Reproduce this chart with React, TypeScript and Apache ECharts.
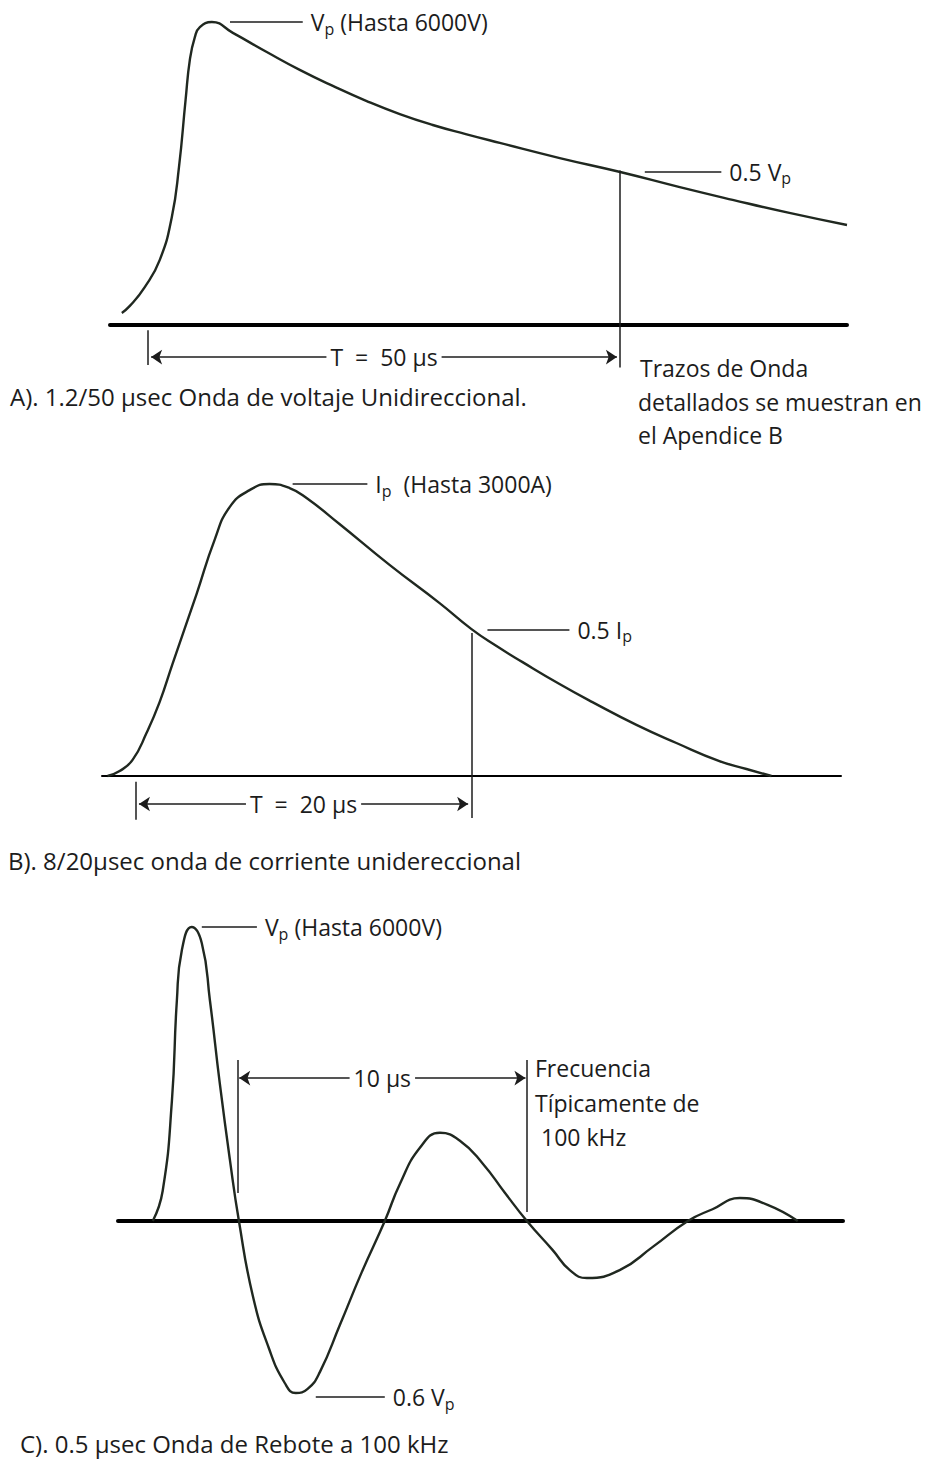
import React, { useEffect, useRef } from "react";
import * as echarts from "echarts";

const FONT = "'Open Sans', 'DejaVu Sans', sans-serif";
const INK = "#1c1c1c";
const CURVE = "#202820";

// ---------- Panel A: 1.2/50 µs voltage wave (t in µs, v as fraction of Vp)
const A_T = [-2.75, -1.9, -0.32, 1.27, 2.54, 3.3, 4.0, 4.45, 4.98, 5.51, 6.78, 9.0, 12.59, 16.08, 19.58, 23.17, 26.67, 30.16, 33.65, 37.25, 43.6, 50, 56.3, 61.9, 67.9, 74];
const A_V = [0.04, 0.063, 0.125, 0.215, 0.356, 0.521, 0.743, 0.875, 0.95, 0.983, 1.0, 0.964, 0.901, 0.842, 0.789, 0.739, 0.696, 0.66, 0.63, 0.601, 0.551, 0.505, 0.455, 0.413, 0.37, 0.33];
const A_RANGE_T = [-4, 74];
const A_RANGE_V = [-0.15, 1];
const A_HALF_T = 50;

// ---------- Panel B: 8/20 µs current wave (t in µs, i as fraction of Ip)
const B_T = [-1.67, -0.95, -0.18, 0.65, 1.43, 2.2, 3.63, 4.7, 5.6, 6.79, 7.98, 9.17, 10.18, 12.14, 15.12, 18.1, 20.0, 21.49, 23.04, 25.24, 27.2, 29.82, 32.2, 34.76, 36.37, 37.86];
const B_V = [0, 0.017, 0.055, 0.147, 0.253, 0.384, 0.623, 0.808, 0.921, 0.979, 1.0, 0.986, 0.952, 0.863, 0.723, 0.592, 0.503, 0.445, 0.39, 0.315, 0.253, 0.175, 0.113, 0.051, 0.024, 0];
const B_RANGE_T = [-2, 42];
const B_RANGE_V = [-0.16, 1];
const B_HALF_T = 20;

// ---------- Panel C: 0.5 µs / 100 kHz ring wave (t in µs, v as fraction of Vp)
const C_T = [0, 0.34, 0.66, 0.83, 1.0, 1.34, 1.69, 1.97, 2.31, 2.66, 2.97, 3.45, 4.0, 4.55, 4.93, 5.34, 5.76, 6.45, 7.21, 8.0, 8.52, 9.21, 9.9, 10.59, 11.38, 12.14, 12.9, 13.79, 14.38, 14.97, 16.1, 17.24, 18.45, 19.3, 20.24, 21.2, 22.24];
const C_V = [0, 0.102, 0.41, 0.75, 0.92, 1.0, 0.945, 0.75, 0.468, 0.207, 0, -0.255, -0.432, -0.551, -0.585, -0.571, -0.514, -0.354, -0.173, 0, 0.126, 0.249, 0.3, 0.273, 0.195, 0.096, 0, -0.099, -0.167, -0.194, -0.167, -0.088, 0, 0.04, 0.078, 0.055, 0];
const C_RANGE_T = [-1.2, 23.8];
const C_RANGE_V = [-0.6, 1.0];
const C_PERIOD = [2.93, 12.9];

// ---------- Texts
const A_PEAK = "V{s|p} (Hasta 6000V)";
const A_HALF = "0.5 V{s|p}";
const A_DIM = "T  =  50 µs";
const A_CAPTION = "A). 1.2/50 µsec Onda de voltaje Unidireccional.";
const A_NOTE = ["Trazos de Onda", "detallados se muestran en", "el Apendice B"];
const B_PEAK = "I{s|p}  (Hasta 3000A)";
const B_HALF = "0.5 I{s|p}";
const B_DIM = "T  =  20 µs";
const B_CAPTION = "B). 8/20µsec onda de corriente unidereccional";
const C_PEAK = "V{s|p} (Hasta 6000V)";
const C_TROUGH = "0.6 V{s|p}";
const C_DIM = "10 µs";
const C_NOTE = ["Frecuencia", "Típicamente de", " 100 kHz"];
const C_CAPTION = "C). 0.5 µsec Onda de Rebote a 100 kHz";

const pairs = (t: number[], v: number[]) => t.map((x, i) => [x, v[i]]);

const LABEL_SIZE = 23;
const CAPTION_SIZE = 24;
const NOTE_SIZE = 23;

const textStyle = {
  fontFamily: FONT,
  fontSize: LABEL_SIZE,
  color: INK,
  rich: { s: { fontFamily: FONT, fontSize: 16, color: INK, padding: [13, 0, 0, 0] } },
};

const seg = (a: number[], b: number[], width = 1.5) => [
  { coord: a, symbol: "none", lineStyle: { width, color: INK, type: "solid" } },
  { coord: b, symbol: "none" },
];
const leader = (a: number[], b: number[], text: string) => [
  {
    coord: a,
    symbol: "none",
    lineStyle: { width: 1.5, color: INK, type: "solid" },
    label: { show: true, position: "end", distance: 8, formatter: text, ...textStyle },
  },
  { coord: b, symbol: "none" },
];
const dim = (a: number[], b: number[], text: string) => [
  {
    coord: a,
    symbol: "arrow",
    symbolSize: 11,
    lineStyle: { width: 1.5, color: INK, type: "solid" },
    label: {
      show: true,
      position: "insideMiddle",
      formatter: text,
      backgroundColor: "#fff",
      padding: [0, 4],
      ...textStyle,
    },
  },
  { coord: b, symbol: "arrow", symbolSize: 11 },
];

const curveSeries = (idx: number, data: number[][], marks: any[]) => ({
  type: "line",
  xAxisIndex: idx,
  yAxisIndex: idx,
  data,
  smooth: 0.5,
  showSymbol: false,
  clip: false,
  silent: true,
  lineStyle: { width: 2.4, color: CURVE },
  markLine: {
    silent: true,
    symbol: "none",
    label: { show: false },
    lineStyle: { type: "solid", color: INK, width: 1.5 },
    emphasis: { disabled: true },
    data: marks,
  },
});

const xAx = (idx: number, range: number[], width: number) => ({
  type: "value",
  gridIndex: idx,
  min: range[0],
  max: range[1],
  axisLabel: { show: false },
  axisTick: { show: false },
  splitLine: { show: false },
  axisLine: { show: true, onZero: true, lineStyle: { color: "#000", width } },
});
const yAx = (idx: number, range: number[]) => ({
  type: "value",
  gridIndex: idx,
  min: range[0],
  max: range[1],
  show: false,
  splitLine: { show: false },
});

const txt = (x: number, y: number, text: string, size = CAPTION_SIZE) => ({
  type: "text",
  x,
  y,
  style: { text, fontFamily: FONT, fontSize: size, fill: INK, align: "left", verticalAlign: "middle" },
});

export default function App() {
  const ref = useRef<HTMLDivElement>(null);
  useEffect(() => {
    if (!ref.current) return;
    const chart = echarts.init(ref.current, null, { renderer: "svg" });
    const option = {
      animation: false,
      backgroundColor: "#fff",
      grid: [
        { left: 110, width: 737, top: 22, height: 348.45 },
        { left: 102, width: 739, top: 484, height: 338.7 },
        { left: 118, width: 725, top: 927, height: 470.4 },
      ],
      xAxis: [xAx(0, A_RANGE_T, 4), xAx(1, B_RANGE_T, 2), xAx(2, C_RANGE_T, 4)],
      yAxis: [yAx(0, A_RANGE_V), yAx(1, B_RANGE_V), yAx(2, C_RANGE_V)],
      series: [
        curveSeries(0, pairs(A_T, A_V), [
          seg([A_HALF_T, 0.51], [A_HALF_T, -0.14]),
          seg([0, -0.017], [0, -0.132]),
          dim([0.35, -0.106], [A_HALF_T - 0.35, -0.106], A_DIM),
          leader([8.7, 1.0], [16.4, 1.0], A_PEAK),
          leader([52.6, 0.505], [60.7, 0.505], A_HALF),
        ]),
        curveSeries(1, pairs(B_T, B_V), [
          seg([B_HALF_T, 0.49], [B_HALF_T, -0.144]),
          seg([0, -0.02], [0, -0.15]),
          dim([0.2, -0.096], [B_HALF_T - 0.2, -0.096], B_DIM),
          leader([9.35, 1.0], [13.8, 1.0], B_PEAK),
          leader([20.95, 0.5], [25.83, 0.5], B_HALF),
        ]),
        curveSeries(2, pairs(C_T, C_V), [
          seg([C_PERIOD[0], 0.548], [C_PERIOD[0], 0.095]),
          seg([C_PERIOD[1], 0.548], [C_PERIOD[1], 0.031]),
          dim([C_PERIOD[0] + 0.05, 0.486], [C_PERIOD[1] - 0.05, 0.486], C_DIM),
          leader([1.69, 1.0], [3.59, 1.0], C_PEAK),
          leader([5.62, -0.599], [8.0, -0.599], C_TROUGH),
        ]),
      ],
      graphic: [
        txt(10, 396, A_CAPTION),
        txt(640, 368, A_NOTE[0], NOTE_SIZE),
        txt(638, 402, A_NOTE[1], NOTE_SIZE),
        txt(638, 435, A_NOTE[2], NOTE_SIZE),
        txt(8, 860, B_CAPTION),
        txt(535, 1068, C_NOTE[0], NOTE_SIZE),
        txt(535, 1103, C_NOTE[1], NOTE_SIZE),
        txt(535, 1137, C_NOTE[2], NOTE_SIZE),
        txt(20, 1443, C_CAPTION),
      ],
    };
    chart.setOption(option as any);
    return () => chart.dispose();
  }, []);
  return (
    <div
      ref={ref}
      style={{ position: "absolute", left: 0, top: 0, width: 925, height: 1464, background: "#fff" }}
    />
  );
}
